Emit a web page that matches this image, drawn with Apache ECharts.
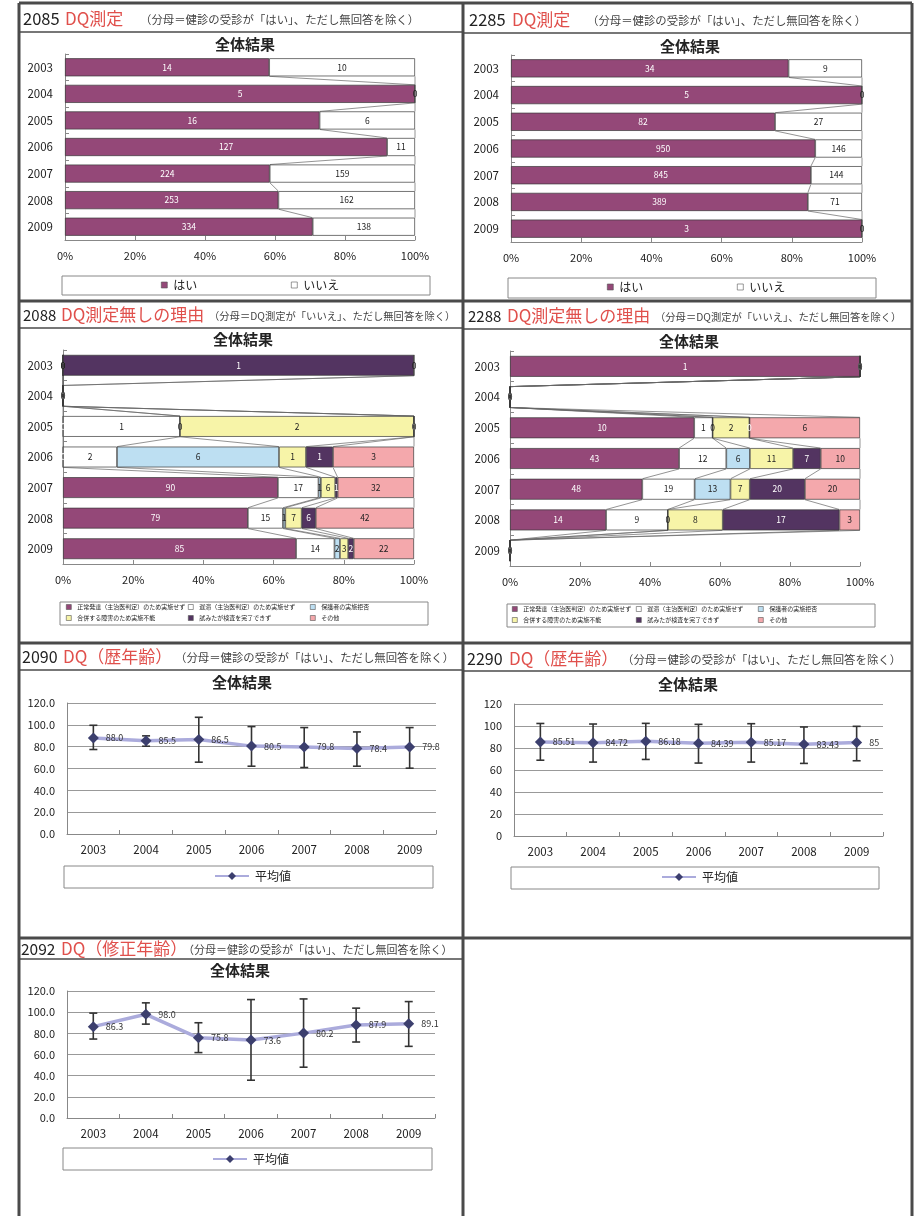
<!DOCTYPE html>
<html><head><meta charset="utf-8">
<script src="https://cdn.jsdelivr.net/npm/echarts@6/dist/echarts.min.js"></script>
<style>html,body{margin:0;padding:0;background:#fff}#c{width:918px;height:1216px}</style>
</head><body><div id="c"></div>
<script>
// ---------- data ----------
const years = ['2003','2004','2005','2006','2007','2008','2009'];
const yesNoNames = ['はい','いいえ'];
const q2085_yes = [14,5,16,127,224,253,334];
const q2085_no  = [10,0,6,11,159,162,138];
const q2285_yes = [34,5,82,950,845,389,3];
const q2285_no  = [9,0,27,146,144,71,0];

const reasonNames = ['正常発達（主治医判定）のため実施せず','遅滞（主治医判定）のため実施せず','保護者の実施拒否','合併する障害のため実施不能','試みたが検査を完了できず','その他'];
const r2088_normal = [0,0,0,0,90,79,85];
const r2088_delay  = [0,0,1,2,17,15,14];
const r2088_refuse = [0,0,0,6,1,1,2];
const r2088_disab  = [0,0,2,1,6,7,3];
const r2088_incomp = [1,0,0,1,1,6,2];
const r2088_other  = [0,0,0,3,32,42,22];
const r2288_normal = [1,0,10,43,48,14,0];
const r2288_delay  = [0,0,1,12,19,9,0];
const r2288_refuse = [0,0,0,6,13,0,0];
const r2288_disab  = [0,0,2,11,7,8,0];
const r2288_incomp = [0,0,0,7,20,17,0];
const r2288_other  = [0,0,6,10,20,3,0];

const meanName = '平均値';
const dq2090_mean = [88.0,85.5,86.5,80.5,79.8,78.4,79.8];
const dq2090_high = [99.6,89.9,106.9,98.4,97.5,93.5,97.5];
const dq2090_low  = [77.4,80.4,65.8,62.1,60.9,62.1,60.3];
const dq2290_mean = [85.51,84.72,86.18,84.39,85.17,83.43,85];
const dq2290_high = [102.3,101.8,102.4,101.5,102.1,99.1,99.7];
const dq2290_low  = [68.9,67.2,69.6,66.3,67.2,66.0,68.4];
const dq2092_mean = [86.3,98.0,75.8,73.6,80.2,87.9,89.1];
const dq2092_high = [99.1,108.8,90.0,111.9,112.5,103.8,110.0];
const dq2092_low  = [74.6,88.7,61.8,35.7,48.0,71.8,67.7];

const pctTicks = [0,20,40,60,80,100];

// ---------- style ----------
const FONT = '"Noto Sans CJK JP","Noto Sans",sans-serif';
const C_NORMAL='#944878', C_WHITE='#ffffff', C_BLUE='#bddff2', C_YEL='#f7f4a8', C_DARK='#533461', C_PINK='#f4a8ac';
const BAR_RATIO = 0.68;

const chart = echarts.init(document.getElementById('c'));

const grids = [
  {left:65, top:54, width:350, height:186},
  {left:511, top:55, width:351, height:187},
  {left:63, top:350, width:351, height:214},
  {left:510, top:351, width:350, height:215},
  {left:67, top:703, width:369, height:131},
  {left:514, top:704, width:369, height:132},
  {left:67, top:991, width:368, height:127}
];

const xAxes = [], yAxes = [], series = [];
const axisLineStyle = {show:true, lineStyle:{color:'#888', width:1}};

function barAxes(gi, ylabMargin){
  xAxes.push({type:'value', gridIndex:gi, min:pctTicks[0], max:pctTicks[pctTicks.length-1], interval:20,
    axisLabel:{formatter:'{value}%', fontSize:11, color:'#222', margin:10, fontFamily:FONT},
    axisLine:axisLineStyle, axisTick:{show:true, inside:true, length:4, lineStyle:{color:'#888'}},
    splitLine:{show:false}});
  yAxes.push({type:'category', gridIndex:gi, data:years, inverse:true,
    axisLabel:{fontSize:11.5, color:'#222', margin:ylabMargin, fontFamily:FONT},
    axisLine:axisLineStyle, axisTick:{show:true, inside:true, length:4, lineStyle:{color:'#888'}},
    splitLine:{show:false}});
}
function lineAxes(gi, dec){
  xAxes.push({type:'category', gridIndex:gi, data:years, boundaryGap:true,
    axisLabel:{fontSize:11.5, color:'#222', margin:10, fontFamily:FONT},
    axisLine:axisLineStyle, axisTick:{show:true, inside:true, length:4, alignWithLabel:false, lineStyle:{color:'#888'}},
    splitLine:{show:false}});
  yAxes.push({type:'value', gridIndex:gi, min:0, max:120, interval:20,
    axisLabel:{fontSize:11, color:'#222', margin:12, fontFamily:FONT, formatter:v=>dec?v.toFixed(1):String(v)},
    axisLine:axisLineStyle, axisTick:{show:false},
    splitLine:{show:true, lineStyle:{color:'#999', width:1}}});
}

function stackedBars(gi, cols, names, colors, labelColors){
  const n = years.length;
  const totals = years.map((_,i)=>cols.reduce((s,c)=>s+c[i],0));
  const cum = years.map((_,i)=>{ let s=0; return cols.map(c=>{ s+=c[i]; return totals[i]? s/totals[i]*100 : 0; }); });
  cols.forEach((c,k)=>{
    series.push({type:'bar', name:names[k], xAxisIndex:gi, yAxisIndex:gi, stack:'s'+gi, barWidth:(BAR_RATIO*100)+'%',
      itemStyle:{color:colors[k], borderColor:'#3a3a3a', borderWidth:0.7},
      label:{show:true, position:'inside', fontSize:8.5, color:labelColors[k], fontFamily:FONT,
        formatter:p=>String(c[p.dataIndex])},
      emphasis:{disabled:true},
      data:c.map((v,i)=>totals[i]? v/totals[i]*100 : 0)});
  });
  // series lines (connectors between bars)
  series.push({type:'custom', xAxisIndex:gi, yAxisIndex:gi, silent:true, z:1,
    data: years.slice(0,n-1).map((_,i)=>[0,i]),
    renderItem:(params, api)=>{
      const i = api.value(1);
      const h = api.size([0,1])[1]*BAR_RATIO/2;
      const ch = [];
      for(let k=0;k<cols.length;k++){
        const a = api.coord([cum[i][k], i]);
        const b = api.coord([cum[i+1][k], i+1]);
        ch.push({type:'line', shape:{x1:a[0], y1:a[1]+h, x2:b[0], y2:b[1]-h}, style:{stroke:'#666', lineWidth:0.7}});
      }
      return {type:'group', children:ch};
    }});
}

function lineChart(gi, mean, low, high, fmt){
  series.push({type:'custom', xAxisIndex:gi, yAxisIndex:gi, silent:true, z:2,
    data: mean.map((m,i)=>[i, low[i], high[i]]),
    renderItem:(params, api)=>{
      const i = api.value(0);
      const lo = api.coord([i, api.value(1)]), hi = api.coord([i, api.value(2)]);
      const w = 4, st = {stroke:'#333', lineWidth:1.6};
      return {type:'group', children:[
        {type:'line', shape:{x1:hi[0], y1:hi[1], x2:lo[0], y2:lo[1]}, style:st},
        {type:'line', shape:{x1:hi[0]-w, y1:hi[1], x2:hi[0]+w, y2:hi[1]}, style:st},
        {type:'line', shape:{x1:lo[0]-w, y1:lo[1], x2:lo[0]+w, y2:lo[1]}, style:st}]};
    }});
  series.push({type:'line', name:meanName, xAxisIndex:gi, yAxisIndex:gi, z:3, data:mean,
    symbol:'diamond', symbolSize:11,
    lineStyle:{color:'#ababdc', width:3.5}, itemStyle:{color:'#3c3f6e'},
    label:{show:true, position:'right', distance:7, fontSize:9, color:'#333', fontFamily:FONT, formatter:p=>fmt(p.value)},
    emphasis:{disabled:true}});
}

const reasonColors = [C_NORMAL, C_WHITE, C_BLUE, C_YEL, C_DARK, C_PINK];
const reasonLabelColors = ['#fff','#222','#222','#222','#fff','#222'];

barAxes(0, 12); stackedBars(0, [q2085_yes, q2085_no], yesNoNames, [C_NORMAL, C_WHITE], ['#fff','#222']);
barAxes(1, 12); stackedBars(1, [q2285_yes, q2285_no], yesNoNames, [C_NORMAL, C_WHITE], ['#fff','#222']);
barAxes(2, 10); stackedBars(2, [r2088_normal,r2088_delay,r2088_refuse,r2088_disab,r2088_incomp,r2088_other], reasonNames, reasonColors, reasonLabelColors);
barAxes(3, 10); stackedBars(3, [r2288_normal,r2288_delay,r2288_refuse,r2288_disab,r2288_incomp,r2288_other], reasonNames, reasonColors, reasonLabelColors);
lineAxes(4, true);  lineChart(4, dq2090_mean, dq2090_low, dq2090_high, v=>v.toFixed(1));
lineAxes(5, false); lineChart(5, dq2290_mean, dq2290_low, dq2290_high, v=>String(v));
lineAxes(6, true);  lineChart(6, dq2092_mean, dq2092_low, dq2092_high, v=>v.toFixed(1));

// ---------- legends ----------
const legends = [];
function lg(name, left, top, fs, iw, ih, icon){
  const o = {data:[name], left, top, padding:0, itemGap:2, itemWidth:iw, itemHeight:ih,
    textStyle:{fontSize:fs, color:'#222', fontFamily:FONT, padding:[0,0,0,1]}, selectedMode:false};
  if(icon){ o.icon = icon; o.itemStyle = {borderWidth:0.6, borderColor:'#555'}; }
  legends.push(o);
}
lg('はい', 161, 279, 12, 6, 6, 'rect'); lg('いいえ', 291, 279, 12, 6, 6, 'rect');
lg('はい', 607, 281, 12, 6, 6, 'rect'); lg('いいえ', 737, 281, 12, 6, 6, 'rect');
[[66,188,310,604,615],[512,636,758,606,617]].forEach(p=>{
  reasonNames.forEach((nm,k)=>{
    lg(nm, p[k%3], k<3?p[3]:p[4], 6, 5, 5, 'rect');
  });
});
lg(meanName, 214, 870, 12, 34, 10);
lg(meanName, 661, 871, 12, 34, 10);
lg(meanName, 212, 1153, 12, 34, 10);

// ---------- graphic: frames, headers, titles, legend boxes ----------
const G = [];
const frame = {stroke:'#4a4a4a', lineWidth:3};
const thin = {stroke:'#4a4a4a', lineWidth:1.5};
function ln(x1,y1,x2,y2,st){ G.push({type:'line', shape:{x1,y1,x2,y2}, style:st, silent:true}); }
[19,463,912].forEach(x=>ln(x,3,x,1216,frame));
[3,301,643,938].forEach(y=>ln(19,y,912,y,frame));
ln(19,32,463,32,thin); ln(463,33,912,33,thin);
ln(19,328,463,328,thin); ln(463,329,912,329,thin);
ln(19,670,463,670,thin); ln(463,671,912,671,thin);
ln(19,959,463,959,thin);

function txt(x,y,text,size,color,align,weight){
  G.push({type:'text', x, y, silent:true, style:{text, fontSize:size, fontFamily:FONT, fill:color,
    align:align||'left', verticalAlign:'middle', fontWeight:weight||'normal'}});
}
const RED = '#e0504c';
const subA = '（分母＝健診の受診が「はい」、ただし無回答を除く）';
const subB = '（分母＝DQ測定が「いいえ」、ただし無回答を除く）';
function header(x,y,num,numSize,tx,title,sx,sub,subSize){
  txt(x,y,num,numSize,'#222'); txt(tx,y,title,17,RED); txt(sx,y+1,sub,subSize,'#444');
}
header(23,19,'2085',16.5,65,'DQ測定',140,subA,11.4);
header(469,20,'2285',16.5,512,'DQ測定',587,subA,11.4);
header(23,315,'2088',15,61,'DQ測定無しの理由',209,subB,10.3);
header(468,316,'2288',15,507,'DQ測定無しの理由',655,subB,10.3);
header(22,657,'2090',16,63,'DQ（歴年齢）',175,subA,11.4);
header(467,659,'2290',16,509,'DQ（歴年齢）',622,subA,11.4);
header(21,949,'2092',15.5,61,'DQ（修正年齢）',183,subA,11);

[[245,44],[690,46],[243,339],[689,341],[242,682],[688,684],[240,970]].forEach(p=>txt(p[0],p[1],'全体結果',15,'#222','center','bold'));

function box(x,y,w,h){ G.push({type:'rect', shape:{x,y,width:w,height:h}, style:{fill:'none', stroke:'#888', lineWidth:1}, silent:true}); }
box(62,276,368,19); box(508,278,368,20);
box(60,602,368,23); box(507,604,368,23);
box(64,866,369,22); box(511,867,368,22); box(63,1148,369,22);

chart.setOption({
  animation:false,
  backgroundColor:'#fff',
  textStyle:{fontFamily:FONT},
  grid:grids,
  xAxis:xAxes,
  yAxis:yAxes,
  legend:legends,
  series:series,
  graphic:G
});
</script></body></html>
